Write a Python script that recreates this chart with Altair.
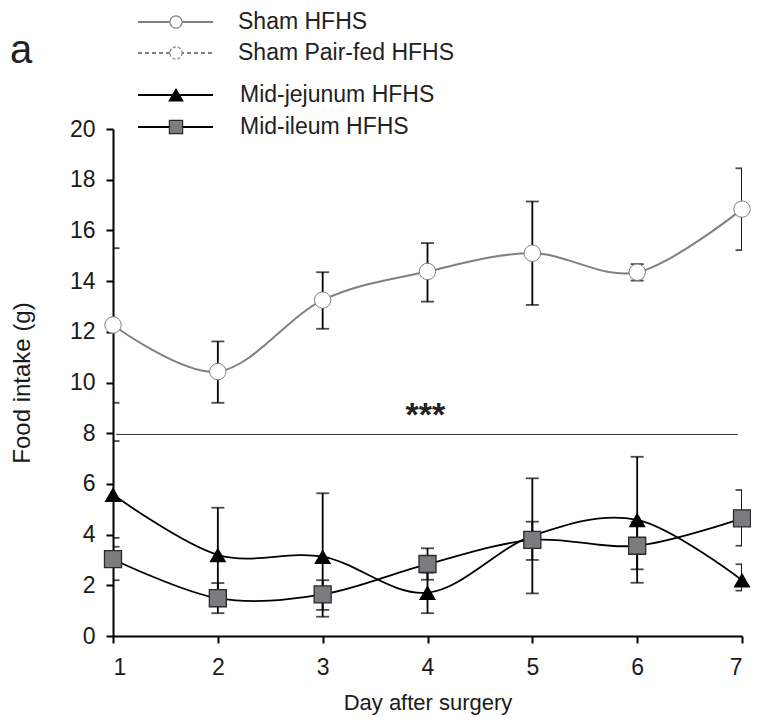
import altair as alt
import pandas as pd

# ---- data ----
days = [1, 2, 3, 4, 5, 6, 7]

sham_mean = [12.27, 10.43, 13.25, 14.38, 15.10, 14.35, 16.84]
sham_hi   = [15.30, 11.62, 14.35, 15.50, 17.14, 14.67, 18.45]
sham_lo   = [9.20, 9.20, 12.12, 13.19, 13.06, 14.02, 15.22]

jej_mean = [5.58, 3.20, 3.13, 1.71, 3.95, 4.58, 2.20]
jej_hi   = [7.69, 5.06, 5.63, 2.50, 6.22, 7.07, 2.83]
jej_lo   = [3.52, 1.34, 0.76, 0.90, 1.68, 2.10, 1.79]

ile_mean = [3.03, 1.49, 1.64, 2.84, 3.79, 3.56, 4.64]
ile_hi   = [3.87, 2.09, 2.20, 3.46, 4.51, 4.49, 5.76]
ile_lo   = [2.20, 0.90, 1.03, 2.22, 3.00, 2.63, 3.56]

sig_x = [1.03, 6.96]
sig_y = 7.95
star_x = 3.98
star_y = 8.3
star_label = "***"

legend_names = ["Sham HFHS", "Sham Pair-fed HFHS", "Mid-jejunum HFHS", "Mid-ileum HFHS"]

x_ticks = [1, 2, 3, 4, 5, 6, 7]
y_ticks = [0, 2, 4, 6, 8, 10, 12, 14, 16, 18, 20]

FONT = "Liberation Sans"
GRAY = "#808080"
SQ_FILL = "#7b7b80"

def frame(mean, hi, lo):
    return pd.DataFrame({"day": days, "mean": mean, "hi": hi, "lo": lo})

sham = frame(sham_mean, sham_hi, sham_lo)
jej = frame(jej_mean, jej_hi, jej_lo)
ile = frame(ile_mean, ile_hi, ile_lo)

xs = alt.Scale(domain=[1, 7], nice=False, zero=False)
ys = alt.Scale(domain=[0, 20], nice=False)

X = alt.X("day:Q", scale=xs, axis=alt.Axis(
    values=x_ticks, format="d", title="Day after surgery",
    labelPadding=13, titlePadding=13, titleFontSize=22))
Y = alt.Y("mean:Q", scale=ys, axis=alt.Axis(
    values=y_ticks, format="d", title="Food intake (g)",
    labelPadding=11, titleX=-91, titleBaseline="middle", titleFontSize=24))


def err_layers(df):
    base = alt.Chart(df)
    rule = base.mark_rule(color="black", strokeWidth=1.8, clip=True).encode(
        x=alt.X("day:Q", scale=xs), y=alt.Y("lo:Q", scale=ys), y2="hi:Q")
    cap_hi = base.mark_tick(color="black", orient="horizontal", size=13,
                            thickness=1.8, clip=True).encode(
        x=alt.X("day:Q", scale=xs), y=alt.Y("hi:Q", scale=ys))
    cap_lo = base.mark_tick(color="black", orient="horizontal", size=13,
                            thickness=1.8, clip=True).encode(
        x=alt.X("day:Q", scale=xs), y=alt.Y("lo:Q", scale=ys))
    return [rule, cap_hi, cap_lo]


layers = []
for d in (sham, jej, ile):
    layers += err_layers(d)

# significance line and stars
sig_df = pd.DataFrame({"x": [sig_x[0]], "x2": [sig_x[1]], "y": [sig_y]})
layers.append(alt.Chart(sig_df).mark_rule(color="#333333", strokeWidth=1).encode(
    x=alt.X("x:Q", scale=xs), x2="x2:Q", y=alt.Y("y:Q", scale=ys)))
star_df = pd.DataFrame({"x": [star_x], "y": [star_y], "t": [star_label]})
layers.append(alt.Chart(star_df).mark_text(font=FONT, fontSize=34, fontWeight="bold",
                                           color="#222222", baseline="alphabetic").encode(
    x=alt.X("x:Q", scale=xs), y=alt.Y("y:Q", scale=ys), text="t:N"))

# lines
layers.append(alt.Chart(sham).mark_line(color=GRAY, strokeWidth=2, interpolate="cardinal").encode(x=X, y=Y))
layers.append(alt.Chart(jej).mark_line(color="black", strokeWidth=1.8, interpolate="cardinal").encode(x=X, y=Y))
layers.append(alt.Chart(ile).mark_line(color="black", strokeWidth=1.8, interpolate="cardinal").encode(x=X, y=Y))

# points
layers.append(alt.Chart(sham).mark_point(shape="circle", filled=True, fill="white", stroke=GRAY,
                                         strokeWidth=1, size=270, opacity=1).encode(x=X, y=Y))
layers.append(alt.Chart(jej).mark_point(shape="triangle-up", filled=True, color="black",
                                        size=290, opacity=1).encode(x=X, y=Y))
layers.append(alt.Chart(ile).mark_point(shape="square", filled=True, fill=SQ_FILL, stroke="#2a2a2a",
                                        strokeWidth=1.3, size=290, opacity=1).encode(x=X, y=Y))

# ---- manual legend (pixel positions relative to plot origin) ----
leg_rows = [-107, -76, -34, -2]
leg_styles = [
    dict(color=GRAY, dash=[1, 0], shape="circle", fill="white", stroke=GRAY, size=150, tx=125),
    dict(color=GRAY, dash=[4, 3], shape="circle", fill="white", stroke=GRAY, size=150, tx=125),
    dict(color="black", dash=[1, 0], shape="triangle-up", fill="black", stroke="black", size=185, tx=127),
    dict(color="black", dash=[1, 0], shape="square", fill=SQ_FILL, stroke="#2a2a2a", size=175, tx=127),
]
dummy = pd.DataFrame({"k": [0]})
for name, yy, st in zip(legend_names, leg_rows, leg_styles):
    layers.append(alt.Chart(dummy).mark_rule(color=st["color"], strokeWidth=1.8,
                                             strokeDash=st["dash"]).encode(
        x=alt.value(25), x2=alt.value(100), y=alt.value(yy)))
    pt_kwargs = dict(shape=st["shape"], filled=True, fill=st["fill"], stroke=st["stroke"],
                     strokeWidth=1.2, size=st["size"], opacity=1)
    if st["dash"] != [1, 0]:
        pt_kwargs["strokeDash"] = [3, 2]
    layers.append(alt.Chart(dummy).mark_point(**pt_kwargs).encode(
        x=alt.value(63), y=alt.value(yy)))
    layers.append(alt.Chart(dummy).mark_text(text=name, font=FONT, fontSize=23, color="#222222",
                                             align="left", baseline="middle").encode(
        x=alt.value(st["tx"]), y=alt.value(yy)))

layers.append(alt.Chart(dummy).mark_text(text="a", font=FONT, fontSize=40, color="#222222",
                                         align="center", baseline="middle").encode(
    x=alt.value(-92), y=alt.value(-78)))

chart = alt.layer(*layers).properties(
    width=629, height=507,
    autosize=alt.AutoSizeParams(type="none"),
    padding={"left": 105, "top": 121, "right": 9, "bottom": 81},
).configure_view(stroke=None).configure_axis(
    grid=False, domainColor="black", domainWidth=2, tickColor="black", tickWidth=2,
    tickSize=7, labelFont=FONT, labelFontSize=23, labelColor="#1a1a1a",
    titleFont=FONT, titleFontSize=22, titleColor="#1a1a1a", titleFontWeight="normal",
)

chart.save("out.html", embed_options={"renderer": "svg", "actions": False})
